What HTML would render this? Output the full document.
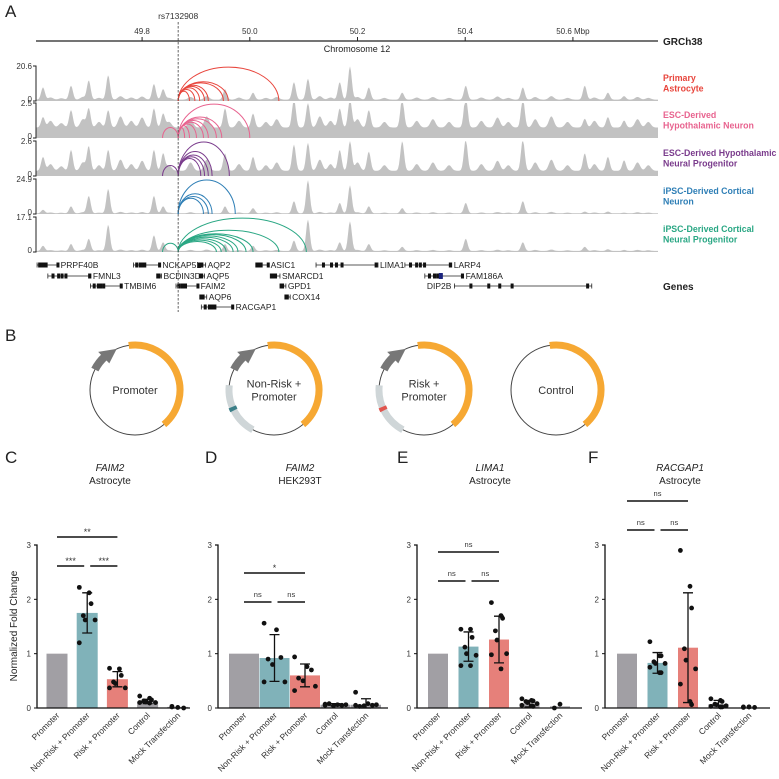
<!DOCTYPE html>
<html><head><meta charset="utf-8"><style>
body{margin:0;background:#fff}
svg{display:block;font-family:"Liberation Sans",Arial,sans-serif}
</style></head><body>
<svg id="fig" width="779" height="779" viewBox="0 0 779 779" xmlns="http://www.w3.org/2000/svg">
<g id="panelA"></g>
<g id="panelB"></g>
<g id="panelC"></g>
</svg>
<script>
const NS='http://www.w3.org/2000/svg';
function mk(parent,tag,attrs,text){const e=document.createElementNS(NS,tag);for(const k in attrs)e.setAttribute(k,attrs[k]);if(text!==undefined)e.textContent=text;parent.appendChild(e);return e;}

// ===== Panel A data =====
const mbTicks=[49.8,50.0,50.2,50.4,50.6];
const mbTickLabels=['49.8','50.0','50.2','50.4','50.6 Mbp'];
const snpMb=49.867;
const trackNames=[['Primary','Astrocyte'],['ESC-Derived','Hypothalamic Neuron'],['ESC-Derived Hypothalamic','Neural Progenitor'],['iPSC-Derived Cortical','Neuron'],['iPSC-Derived Cortical','Neural Progenitor']];
const trackMax=['20.6','2.5','2.6','24.9','17.1'];
const trackColors=['#e8453c','#e8638f','#7a3b8c','#2f7fb6','#2aa784'];
const peakMb=[49.616,49.668,49.701,49.737,49.822,49.839,49.954,50.006,50.082,50.108,50.167,50.186,50.221,50.283,50.401,50.507,50.622,50.665,50.695];
const peaksT1=[0.35,0.4,0.55,0.7,0.45,0.3,0.3,0.2,0.5,0.6,0.5,0.95,0.35,0.2,0.4,0.35,0.4,0.2,0.1];
const peaksT2=[0.3,0.5,0.55,0.5,0.55,0.4,0.55,0.4,0.85,0.7,0.55,0.85,0.5,0.85,0.95,0.85,0.25,0.3,0.2];
const peaksT3=[0.4,0.6,0.7,0.6,0.6,0.5,0.5,0.4,0.75,0.8,0.6,0.85,0.55,0.85,0.9,0.9,0.5,0.4,0.3];
const peaksT4=[0.1,0.2,0.5,0.7,0.5,0.2,0.2,0.15,0.35,0.95,0.3,0.8,0.2,0.15,0.3,0.35,0.05,0.05,0.02];
const peaksT5=[0.15,0.2,0.35,0.75,0.45,0.25,0.2,0.15,0.3,0.9,0.25,0.85,0.2,0.12,0.35,0.25,0.12,0.05,0.03];
const trackBase=[0.04,0.3,0.15,0.02,0.03];
const minorMb=[49.63,49.65,49.69,49.72,49.76,49.78,49.80,49.85,49.89,49.92,49.98,50.03,50.05,50.13,50.15,50.20,50.25,50.31,50.34,50.37,50.43,50.46,50.48,50.53,50.56,50.59,50.64,50.72,50.74];
const minorH=[0.12,0.08,0.15,0.1,0.2,0.12,0.18,0.1,0.15,0.2,0.12,0.1,0.15,0.2,0.12,0.15,0.1,0.12,0.15,0.1,0.12,0.18,0.1,0.15,0.2,0.1,0.12,0.15,0.1];
const arcEnds1=[50.054,49.96,49.951,49.923,49.916,49.907,49.898,49.888];
const arcH1=[0.97,0.55,0.52,0.45,0.42,0.38,0.33,0.28];
const arcEnds2=[50.0,49.948,49.938,49.923,49.914,49.901,49.888,49.879,49.838];
const arcH2=[0.97,0.6,0.55,0.5,0.45,0.4,0.35,0.3,0.3];
const arcEnds3=[49.962,49.93,49.923,49.916,49.909,49.838];
const arcH3=[0.97,0.7,0.6,0.55,0.5,0.3];
const arcEnds4=[49.973,49.93,49.923,49.914];
const arcH4=[0.97,0.58,0.5,0.45];
const arcEnds5=[50.105,50.054,50.006,49.993,49.978,49.969,49.956,49.947,49.938,49.838];
const arcH5=[0.97,0.62,0.52,0.5,0.46,0.42,0.38,0.34,0.3,0.25];
const geneNames=['PRPF40B','NCKAP5L','AQP2','ASIC1','LIMA1','LARP4','FMNL3','BCDIN3D','AQP5','SMARCD1','FAM186A','TMBIM6','FAIM2','GPD1','DIP2B','AQP6','COX14','RACGAP1'];
const geneStart=[49.605,49.784,49.904,50.011,50.123,50.288,49.625,49.827,49.906,50.038,50.325,49.704,49.863,50.056,50.380,49.907,50.065,49.910];
const geneEnd=[49.645,49.834,49.918,50.035,50.238,50.375,49.705,49.836,49.916,50.056,50.397,49.763,49.905,50.067,50.635,49.920,50.075,49.970];
const geneRow=[0,0,0,0,0,0,1,1,1,1,1,2,2,2,2,3,3,4];

const X0=36,X1=658,MB0=49.603,MB1=50.758;
function xMb(m){return X0+(m-MB0)/(MB1-MB0)*(X1-X0);}
const trackTop=[66,103,141,179,217],trackHt=35;

(function(){
const g=document.getElementById('panelA');
const L=mk(g,'text',{x:5,y:17,'font-size':17,fill:'#222'},'A');


const ax=mk(g,'line',{x1:36,y1:41,x2:658,y2:41,stroke:'#222','stroke-width':1.2});


mbTicks.forEach((m,i)=>{const x=xMb(m);
 const t=mk(g,'line',{x1:x,y1:37,x2:x,y2:41,stroke:'#222'});
 
 
 const tl=mk(g,'text',{x:x,y:34,'font-size':8,'text-anchor':'middle',fill:'#333'},mbTickLabels[i]);
 
 });
const gr=mk(g,'text',{x:663,y:45,'font-size':10,'font-weight':'bold',fill:'#222'},'GRCh38');


const ch=mk(g,'text',{x:357,y:52,'font-size':9,'text-anchor':'middle',fill:'#222'},'Chromosome 12');


const peaks=[peaksT1,peaksT2,peaksT3,peaksT4,peaksT5];
const arcEnds=[arcEnds1,arcEnds2,arcEnds3,arcEnds4,arcEnds5];
const arcHs=[arcH1,arcH2,arcH3,arcH4,arcH5];
for(let t=0;t<5;t++){
 const top=trackTop[t],base=top+trackHt;
 let d=`M${X0},${base}`;
 for(let x=X0;x<=X1;x+=1){
  let v=trackBase[t];
  peakMb.forEach((m,i)=>{const dx=(x-xMb(m))/2.6;v+=peaks[t][i]*Math.exp(-dx*dx);});
  const mscale=(t===1||t===2)?1.6:(t===0?0.5:0.2);
  minorMb.forEach((m,i)=>{const dx=(x-xMb(m))/3.5;v+=minorH[i]*mscale*Math.exp(-dx*dx);});
  v=Math.min(v,1);
  d+=` L${x},${(base-v*trackHt).toFixed(1)}`;
 }
 d+=` L${X1},${base} Z`;
 const area=mk(g,'path',{d:d,fill:'#c2c2c2'});
 
 
 const ya=mk(g,'path',{d:`M33,${top} H36 V${base} H33`,stroke:'#222',fill:'none','stroke-width':1});
 
 
 const mx=mk(g,'text',{x:32,y:top+3,'font-size':8,'text-anchor':'end',fill:'#333'},trackMax[t]);
 
 
 const z=mk(g,'text',{x:32,y:base+1,'font-size':8,'text-anchor':'end',fill:'#333'},'0');
 
 
 const xs=xMb(snpMb);
 arcEnds[t].forEach((e,i)=>{const xe=xMb(e);const h=arcHs[t][i]*trackHt;const rx=Math.abs(xe-xs)/2;
  const a=mk(g,'path',{d:`M${xs},${base} A${rx},${h} 0 0 ${xe>xs?1:0} ${xe},${base}`,fill:'none',stroke:trackColors[t],'stroke-width':1});
  
  });
 trackNames[t].forEach((s,j)=>{const tn=mk(g,'text',{x:663,y:top+15+j*10.5,'font-size':8.8,'font-weight':'bold',fill:trackColors[t]},s);
  
  });
}
const rowY=[265,276,286,297,307];
const exonFrac=[0.12,0.25,0.33,0.42,0.97];
geneNames.forEach((n,i)=>{const y=rowY[geneRow[i]];const a=xMb(geneStart[i]),b=xMb(geneEnd[i]);
 const gg=mk(g,'g',{});
 
 
 mk(gg,'line',{x1:a,y1:y,x2:b,y2:y,stroke:'#222','stroke-width':0.8});
 const w=b-a;
 mk(gg,'line',{x1:a,y1:y-2.5,x2:a,y2:y+2.5,stroke:'#222','stroke-width':0.8});
 mk(gg,'line',{x1:b,y1:y-2.5,x2:b,y2:y+2.5,stroke:'#222','stroke-width':0.8});
 if(w<12){mk(gg,'rect',{x:a,y:y-2.5,width:Math.max(w*0.7,4),height:5,fill:'#111'});}
 else exonFrac.forEach(f=>mk(gg,'rect',{x:a+w*f-1.5,y:y-2.5,width:3,height:5,fill:'#111'}));
 if(n==='FAM186A')mk(gg,'rect',{x:a+14,y:y-3,width:4,height:6,fill:'#1a237e'});
 if(n==='DIP2B'){mk(gg,'text',{x:a-3,y:y+3,'font-size':8.5,'text-anchor':'end',fill:'#222'},n);}
 else mk(gg,'text',{x:b+2,y:y+3,'font-size':8.5,fill:'#222'},n);
});
const gl=mk(g,'text',{x:663,y:290,'font-size':10,'font-weight':'bold',fill:'#222'},'Genes');


const xs=xMb(snpMb);
const dl=mk(g,'line',{x1:xs,y1:22,x2:xs,y2:312,stroke:'#555','stroke-width':0.9,'stroke-dasharray':'2.5,1.5'});


const sl=mk(g,'text',{x:xs,y:19,'font-size':8.5,'text-anchor':'middle',fill:'#333'},'rs7132908');


})();

// ===== Panel B =====
const plasmidNames=[['Promoter'],['Non-Risk +','Promoter'],['Risk +','Promoter'],['Control']];
const plasmidCx=[135,274,424,556];
const insertColor=[null,'#3b7f88','#e0554e',null];
(function(){
const g=document.getElementById('panelB');
const L=mk(g,'text',{x:5,y:341,'font-size':17,fill:'#222'},'B');


const cy=390,r=45;
function pt(cx,a,rr){const t=a*Math.PI/180;return [cx+rr*Math.sin(t),cy-rr*Math.cos(t)];}
function arc(cx,a1,a2,rr){const p=pt(cx,a1,rr),q=pt(cx,a2,rr);let s=a2-a1;if(s<0)s+=360;return `M${p[0]},${p[1]} A${rr},${rr} 0 ${s>180?1:0} 1 ${q[0]},${q[1]}`;}
plasmidCx.forEach((cx,i)=>{
 const gg=mk(g,'g',{});
 
 
 mk(gg,'circle',{cx:cx,cy:cy,r:r,fill:'none',stroke:'#444','stroke-width':1});
 mk(gg,'path',{d:arc(cx,-8,140,r),fill:'none',stroke:'#f6a833','stroke-width':7});
 if(i<3){
  mk(gg,'path',{d:arc(cx,297,318,r),fill:'none',stroke:'#777','stroke-width':8});
  const a=pt(cx,316,r-8),b=pt(cx,316,r+8),c=pt(cx,336,r);
  mk(gg,'polygon',{points:`${a} ${b} ${c}`,fill:'#777'});
 }
 if(insertColor[i]){
  mk(gg,'path',{d:arc(cx,208,276,r),fill:'none',stroke:'#cfd6d8','stroke-width':7});
  mk(gg,'path',{d:arc(cx,243,248,r),fill:'none',stroke:insertColor[i],'stroke-width':8});
 }
 const n=plasmidNames[i];
 n.forEach((s,j)=>mk(gg,'text',{x:cx,y:cy+4+(j-(n.length-1)/2)*13,'font-size':11,'text-anchor':'middle',fill:'#333'},s));
});
})();

// ===== Bar charts =====
const categories=['Promoter','Non-Risk + Promoter','Risk + Promoter','Control','Mock Transfection'];
const yTicks=[0,1,2,3];
const barColors=['#a19fa4','#80b2b9','#e6807a','#a19fa4','#a19fa4'];
const meansC=[1,1.75,0.53,0.12,0.02];
const sdC=[0,0.37,0.14,0.04,0];
const dotsC=[[],[2.22,2.12,1.92,1.70,1.62,1.62,1.20],[0.73,0.72,0.60,0.48,0.45,0.37,0.37],[0.22,0.18,0.15,0.13,0.11,0.10,0.10,0.09],[0.03,0.01,0.0,0.02]];
const meansD=[1,0.92,0.60,0.06,0.06];
const sdD=[0,0.43,0.21,0.02,0.11];
const dotsD=[[],[1.56,1.44,0.93,0.90,0.80,0.48,0.48],[0.94,0.76,0.70,0.55,0.50,0.40,0.32],[0.07,0.06,0.05,0.08,0.04,0.06,0.05],[0.29,0.08,0.05,0.03,0.04,0.06,0.05]];
const meansE=[1,1.13,1.26,0.08,0.03];
const sdE=[0,0.27,0.43,0.06,0];
const dotsE=[[],[1.45,1.45,1.30,1.12,1.00,0.97,0.78,0.78],[1.94,1.70,1.65,1.42,1.25,1.00,0.98,0.72],[0.17,0.14,0.13,0.12,0.10,0.08,0.05,0.04,0.03],[0.0,0.07]];
const meansF=[1,0.83,1.11,0.07,0.01];
const sdF=[0,0.19,1.01,0.07,0];
const dotsF=[[],[1.22,0.96,0.96,0.85,0.82,0.82,0.75,0.65,0.65],[2.90,2.24,1.84,1.09,0.88,0.72,0.44,0.12,0.06],[0.17,0.14,0.12,0.07,0.06,0.04,0.03,0.02,0.02],[0.02,0.02,0.01,0.01,0.02]];
const sigC=['**','***','***'],sigD=['*','ns','ns'],sigE=['ns','ns','ns'],sigF=['ns','ns','ns'];

const Y0=708,YS=(708-545)/3;
function yv(v){return Y0-v*YS;}
function chart(o){
 const g=mk(document.getElementById('panelC'),'g',{});
 
 
 const L=mk(g,'text',{x:o.lx,y:463,'font-size':17,fill:'#222'},o.id.toUpperCase());
 
 
 const t1=mk(g,'text',{x:o.tx,y:471,'font-size':10,'font-style':'italic','text-anchor':'middle',fill:'#222'},o.gene);
 
 
 const t2=mk(g,'text',{x:o.tx,y:484,'font-size':10,'text-anchor':'middle',fill:'#222'},o.cell);
 
 
 const cx=i=>o.ax+o.off+i*o.sp;
 o.means.forEach((m,i)=>{
  const b=mk(g,'rect',{x:cx(i)-o.bw/2,y:yv(m),width:o.bw,height:Y0-yv(m),fill:barColors[i]});
  
  
  if(o.sd[i]>0){const hi=yv(m+o.sd[i]),lo=yv(Math.max(0,m-o.sd[i]));
   const eb=mk(g,'path',{d:`M${cx(i)},${hi} V${lo} M${cx(i)-5},${hi} h10 M${cx(i)-5},${lo} h10`,stroke:'#111','stroke-width':1.3,fill:'none'});
   
   }
  const ds=o.dots[i];
  ds.forEach((v,k)=>{const n=ds.length;const jx=(k%3-1)*o.bw*0.28+(n>6?((k%2)?2:-2):0);
   const dt=mk(g,'circle',{cx:cx(i)+jx,cy:yv(v),r:2.4,fill:'#111'});
   
   });
  const tl=mk(g,'text',{x:cx(i)+3,y:716,'font-size':8.5,'text-anchor':'end',fill:'#333',transform:`rotate(-45 ${cx(i)+3} 716)`},categories[i]);
  
  
 });
 const axp=mk(g,'path',{d:`M${o.ax-3},${yv(3)} H${o.ax} V${Y0} H${o.xe}`,stroke:'#111','stroke-width':1.3,fill:'none'});
 
 
 yTicks.forEach(v=>{const tk=mk(g,'line',{x1:o.ax-3,y1:yv(v),x2:o.ax,y2:yv(v),stroke:'#111'});
  
  
  const tt=mk(g,'text',{x:o.ax-6,y:yv(v)+3,'font-size':8,'text-anchor':'end',fill:'#333'},String(v));
  
  });
 [[0,2,o.s1],[0,1,o.s2],[1,2,o.s2]].forEach((s,j)=>{
  const a=cx(s[0]),b=cx(s[1]);
  const x1=j===2?a+3:a,x2=j===1?b-3:b;
  const ln=mk(g,'line',{x1:x1,y1:s[2],x2:x2,y2:s[2],stroke:'#111','stroke-width':1.6});
  
  
  const lab=o.sig[j];const star=lab.indexOf('*')>=0;
  const st=mk(g,'text',{x:(x1+x2)/2,y:s[2]-(star?2:5),'font-size':star?9:7.5,'text-anchor':'middle',fill:'#333'},lab);
  
  
 });
}
chart({id:'c',lx:5,tx:110,gene:'FAIM2',cell:'Astrocyte',ax:37,off:20,sp:30.2,bw:21,xe:190,means:meansC,sd:sdC,dots:dotsC,sig:sigC,s1:537,s2:566});
chart({id:'d',lx:205,tx:300,gene:'FAIM2',cell:'HEK293T',ax:218,off:26,sp:30.5,bw:30,xe:388,means:meansD,sd:sdD,dots:dotsD,sig:sigD,s1:573,s2:602});
chart({id:'e',lx:397,tx:490,gene:'LIMA1',cell:'Astrocyte',ax:417,off:21,sp:30.5,bw:20,xe:582,means:meansE,sd:sdE,dots:dotsE,sig:sigE,s1:552,s2:581});
chart({id:'f',lx:588,tx:680,gene:'RACGAP1',cell:'Astrocyte',ax:605,off:22,sp:30.5,bw:20,xe:770,means:meansF,sd:sdF,dots:dotsF,sig:sigF,s1:501,s2:530});
const yl=mk(document.getElementById('panelC'),'text',{x:17,y:626,'font-size':10,'text-anchor':'middle',fill:'#222',transform:'rotate(-90 17 626)'},'Normalized Fold Change');


</script>
</body></html>
